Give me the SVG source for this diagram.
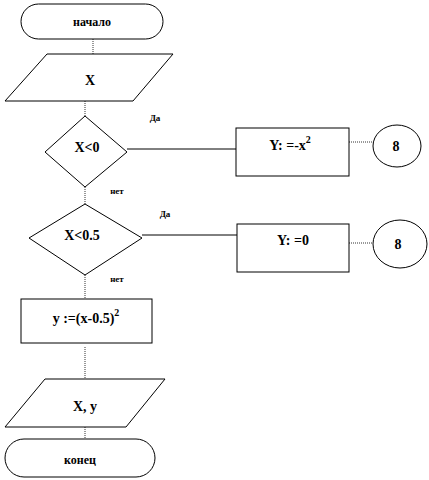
<svg xmlns="http://www.w3.org/2000/svg" width="429" height="480" viewBox="0 0 429 480">
<style>
.s{fill:#fff;stroke:#000;stroke-width:1}
.t{font-family:"Liberation Serif",serif;font-weight:bold;font-size:14px;text-anchor:middle;dominant-baseline:central;fill:#000}
.sm{font-family:"Liberation Serif",serif;font-weight:bold;font-size:9px;text-anchor:middle;fill:#000}
.c{stroke:#000;stroke-width:1;fill:none}
.d{stroke:#333;stroke-width:1;fill:none;stroke-dasharray:1,1}
</style>
<rect width="429" height="480" fill="#fff"/>
<g id="connectors">
<line class="d" x1="93" y1="39" x2="93" y2="54"/>
<line class="d" x1="85" y1="101" x2="85" y2="116"/>
<line class="c" x1="127" y1="149" x2="236" y2="149"/>
<line class="d" x1="349" y1="142" x2="373" y2="142"/>
<line class="d" x1="85" y1="187" x2="85" y2="204"/>
<line class="c" x1="142" y1="235" x2="237" y2="235"/>
<line class="d" x1="349" y1="243" x2="373" y2="243"/>
<line class="d" x1="85" y1="275" x2="85" y2="299"/>
<line class="d" x1="85" y1="347" x2="85" y2="379"/>
<line class="d" x1="85" y1="427" x2="85" y2="439"/>
<text class="sm" x="155" y="121">Да</text>
<text class="sm" x="117" y="194">нет</text>
<text class="sm" x="165" y="217">Да</text>
<text class="sm" x="117" y="282">нет</text>
</g>
<g id="start">
<rect class="s" x="21" y="4" width="142" height="35" rx="17.5"/>
<text class="t" x="92" y="22" style="font-size:12px">начало</text>
</g>
<g id="input">
<polygon class="s" points="47,54 173,54 133,101 5,101"/>
<text class="t" x="90" y="80">X</text>
</g>
<g id="cond1">
<polygon class="s" points="85,116 127,152 85,187 45,152"/>
<text class="t" x="87" y="147">X&lt;0</text>
</g>
<g id="assign1">
<rect class="s" x="236" y="128" width="113" height="48"/>
<text class="t" x="290" y="145">Y: =-x<tspan dy="-6" style="font-size:10px">2</tspan></text>
</g>
<g id="conn1">
<ellipse class="s" cx="397" cy="146" rx="24" ry="21"/>
<text class="t" x="396" y="146">8</text>
</g>
<g id="cond2">
<polygon class="s" points="85,204 142,238 85,275 29,238"/>
<text class="t" x="82" y="235">X&lt;0.5</text>
</g>
<g id="assign2">
<rect class="s" x="237" y="224" width="112" height="48"/>
<text class="t" x="293" y="240">Y: =0</text>
</g>
<g id="conn2">
<ellipse class="s" cx="400" cy="244" rx="27" ry="24"/>
<text class="t" x="398" y="244">8</text>
</g>
<g id="assign3">
<rect class="s" x="21" y="299" width="131" height="44"/>
<text class="t" x="86" y="318">y :=(x-0.5)<tspan dy="-6" style="font-size:10px">2</tspan></text>
</g>
<g id="output">
<polygon class="s" points="45,379 165,379 126,427 5,427"/>
<text class="t" x="85" y="406">X, y</text>
</g>
<g id="end">
<rect class="s" x="5" y="439" width="150" height="38" rx="19"/>
<text class="t" x="80" y="460" style="font-size:12px">конец</text>
</g>
</svg>
